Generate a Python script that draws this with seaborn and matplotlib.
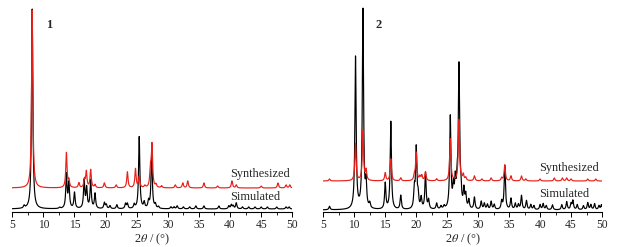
import numpy as np
import pandas as pd
import matplotlib
matplotlib.use("Agg")
import matplotlib.pyplot as plt
from matplotlib.ticker import MultipleLocator
import seaborn as sns

sns.set_theme(style="white")
plt.rcParams["font.family"] = ["Liberation Serif", "DejaVu Serif"]
plt.rcParams["mathtext.fontset"] = "stix"

# ---------------- data (peak positions in 2theta, peak heights) ----------------
# Compound 1
sim1_pos = [6.9, 8.2, 12.6, 13.7, 14.1, 15.0, 16.55, 16.95, 17.6, 18.3, 19.8, 20.1, 20.7, 21.8,
            23.2, 23.5, 24.6, 25.4, 26.2, 26.9, 27.4, 28.0, 28.5, 30.5, 31.0, 31.5, 32.5,
            33.5, 34.5, 35.8, 38.2, 39.8, 40.2, 40.5, 41.0, 42.0, 43.0, 44.0, 45.0, 46.0,
            47.5, 49.0, 49.5]
sim1_h = [2.5, 200, 1.2, 34, 25, 16, 28, 20, 28, 15, 6, 4, 3, 4,
          5, 5, 4, 72, 6, 7, 56, 4, 2, 2, 2, 3, 2,
          2, 3, 3, 3, 3, 4, 3, 6, 2, 2, 2, 2, 2,
          2, 2, 2]
syn1_pos = [8.2, 13.7, 14.1, 15.7, 16.6, 16.9, 17.6, 18.3, 19.8, 21.7, 23.5, 24.8, 25.4,
            26.3, 27.2, 27.45, 28.1, 29.0, 31.2, 32.4, 33.2, 35.8, 38.0, 40.3, 41.0,
            45.0, 47.7, 49.0, 49.6]
syn1_h = [178, 35, 7, 5, 8, 16, 18, 3, 5, 3, 16, 19, 11,
          2, 18, 42, 3, 2, 3, 5, 7, 5, 2, 7, 3,
          2, 5, 3, 3]

# Compound 2
sim2_pos = [6.0, 10.2, 11.4, 11.9, 12.5, 15.0, 15.9, 17.5, 19.7, 20.0, 20.3, 20.8, 21.5, 22.0,
            23.3, 24.0, 24.5, 25.5, 26.0, 26.3, 26.6, 26.9, 27.2, 27.7, 28.0, 28.5, 29.4,
            30.5, 31.0, 31.5, 32.1, 32.6, 33.8, 34.3, 35.3, 36.0, 36.5, 37.0, 37.8, 38.5,
            39.0, 40.0, 40.5, 41.0, 42.0, 43.5, 44.3, 45.0, 45.3, 46.0, 47.0, 47.7, 48.2,
            48.8, 49.5, 49.9]
sim2_h = [3.5, 152, 199, 24, 5, 26, 88, 14, 19, 60, 13, 11, 36, 9,
          6, 3, 3, 92, 20, 25, 23, 140, 17, 18, 13, 9, 12,
          8, 6, 5, 8, 5, 8, 44, 11, 6, 5, 14, 9, 5,
          4, 5, 6, 4, 5, 5, 8, 6, 9, 5, 4, 7, 5,
          6, 4, 5]
syn2_pos = [6.0, 10.2, 11.4, 11.9, 15.0, 15.9, 17.5, 19.7, 20.0, 20.6, 20.9, 21.5, 23.3,
            25.5, 26.9, 27.6, 28.0, 29.4, 30.6, 32.1, 33.8, 34.3, 35.3, 37.0, 37.7,
            40.0, 42.3, 43.6, 44.3, 45.0, 47.7, 49.0]
syn2_h = [2, 37, 50, 10, 8, 22, 3, 5, 28, 4, 5, 9, 2,
          42, 61, 6, 3, 5, 2, 3, 3, 16, 5, 5, 2,
          2, 3, 3, 3, 2, 2, 2]

x_ticks = [5, 10, 15, 20, 25, 30, 35, 40, 45, 50]


def profile(x, pos, h, fwhm=0.24):
    g = fwhm / 2.0
    y = np.zeros_like(x)
    for p, a in zip(pos, h):
        y += a * g * g / ((x - p) ** 2 + g * g)
    return y


x = np.linspace(5, 50, 6001)

fig = plt.figure(figsize=(6.17, 2.47), dpi=100)
fig.patch.set_facecolor("white")

panels = [
    dict(rect=[0.0199, 0.1437, 0.4538, 0.856], sim=(sim1_pos, sim1_h), syn=(syn1_pos, syn1_h),
         off=21, ylim=(-2.5, 209), label="1", lab_xy=(10.5, 181),
         syn_txt=(40.0, 32.3), sim_txt=(40.0, 9.0)),
    dict(rect=[0.5240, 0.1437, 0.4517, 0.856], sim=(sim2_pos, sim2_h), syn=(syn2_pos, syn2_h),
         off=29, ylim=(-1.5, 210), label="2", lab_xy=(13.4, 182),
         syn_txt=(39.9, 39.3), sim_txt=(39.9, 13.3)),
]

for pnl in panels:
    ax = fig.add_axes(pnl["rect"])
    ax.set_facecolor("white")
    df_sim = pd.DataFrame({"x": x, "y": profile(x, *pnl["sim"])})
    df_syn = pd.DataFrame({"x": x, "y": profile(x, *pnl["syn"]) + pnl["off"]})
    sns.lineplot(data=df_sim, x="x", y="y", ax=ax, color="black", lw=0.85, sort=False)
    sns.lineplot(data=df_syn, x="x", y="y", ax=ax, color="#e8201a", lw=0.85, sort=False)
    ax.set_xlim(5, 50)
    ax.set_ylim(*pnl["ylim"])
    for s in ["top", "left", "right"]:
        ax.spines[s].set_visible(False)
    ax.spines["bottom"].set_color("black")
    ax.spines["bottom"].set_linewidth(0.8)
    ax.set_yticks([])
    ax.set_ylabel("")
    ax.set_xticks(x_ticks)
    ax.set_xticklabels([str(t) for t in x_ticks], fontsize=8.3)
    ax.xaxis.set_minor_locator(MultipleLocator(2.5))
    ax.tick_params(axis="x", which="major", direction="out", length=3.5, width=0.7,
                   color="black", pad=2.0, bottom=True)
    ax.tick_params(axis="x", which="minor", direction="out", length=2, width=0.6,
                   color="black", bottom=True)
    ax.set_xlabel(r"2$\theta$ / (°)", fontsize=8.8, labelpad=0.5)
    ax.text(*pnl["lab_xy"], pnl["label"], fontsize=9, fontweight="bold", ha="left", va="baseline")
    ax.text(*pnl["syn_txt"], "Synthesized", fontsize=8.8, ha="left", va="baseline")
    ax.text(*pnl["sim_txt"], "Simulated", fontsize=8.8, ha="left", va="baseline")
    ax.grid(False)

fig.savefig("out.png", dpi=100, facecolor="white")
